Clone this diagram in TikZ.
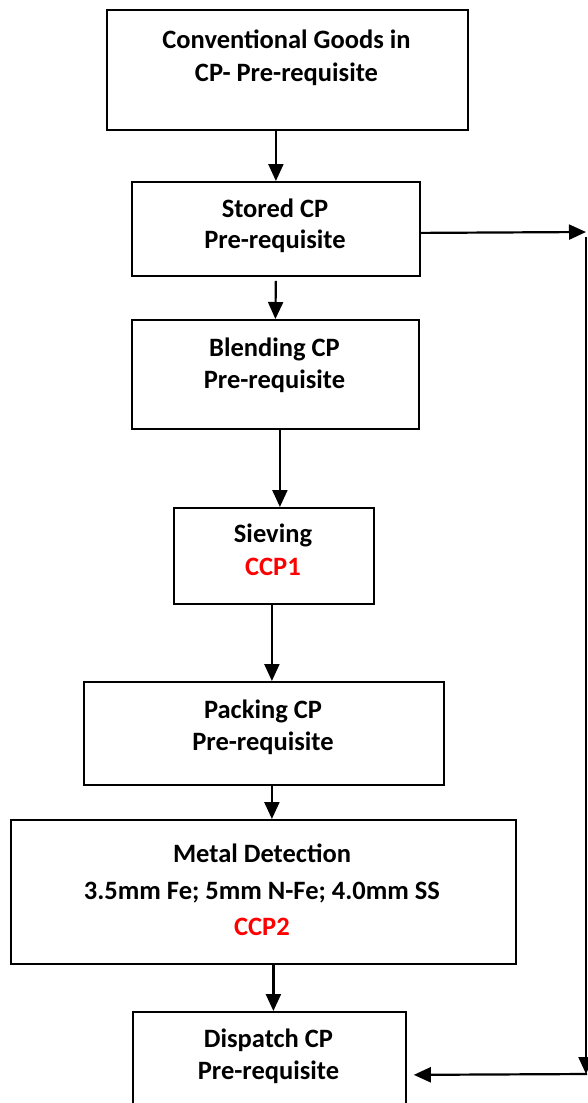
\documentclass[tikz,border=0pt]{standalone}
\usepackage{fontspec}
\setmainfont{Carlito}
\usetikzlibrary{arrows.meta}
\definecolor{ccpred}{RGB}{255,0,0}
\begin{document}
\begin{tikzpicture}[x=1pt,y=-1pt,
  box/.style={draw, line width=1.8pt, rectangle, inner sep=0pt, anchor=north west},
  txt/.style={font=\fontsize{26.5}{30}\selectfont\bfseries, anchor=base, inner sep=0pt},
  red/.style={txt, text=ccpred},
  arr/.style={line width=2.2pt, -{Triangle[length=17pt,width=15pt]}},
  ]
\useasboundingbox (0,0) rectangle (588,1103);
% boxes
\node[box, minimum width=361pt, minimum height=120pt] (conv) at (106,9) {};
\node[box, minimum width=288pt, minimum height=94pt] (stored) at (131,181) {};
\node[box, minimum width=287pt, minimum height=109pt] (blend) at (131,319) {};
\node[box, minimum width=200pt, minimum height=96pt] (sieve) at (173,507) {};
\node[box, minimum width=360pt, minimum height=103pt] (pack) at (83,681) {};
\node[box, minimum width=505pt, minimum height=144pt] (metal) at (10,819) {};
\node[box, minimum width=273pt, minimum height=126pt] (disp) at (132,1011) {};
% texts
\node[txt] (conv1) at (286.5,48) {Conventional Goods in};
\node[txt] (conv2) at (286.5,81) {CP- Pre-requisite};
\node[txt] (stored1) at (275,217) {Stored CP};
\node[txt] (stored2) at (275,248) {Pre-requisite};
\node[txt] (blend1) at (274.5,356) {Blending CP};
\node[txt] (blend2) at (274.5,388) {Pre-requisite};
\node[txt] (sieve1) at (273,542) {Sieving};
\node[red] (sieve2) at (273,575) {CCP1};
\node[txt] (pack1) at (263,718) {Packing CP};
\node[txt] (pack2) at (263,750) {Pre-requisite};
\node[txt] (metal1) at (262,862) {Metal Detection};
\node[txt] (metal2) at (262,899) {3.5mm Fe; 5mm N-Fe; 4.0mm SS};
\node[red] (metal3) at (262,935) {CCP2};
\node[txt] (disp1) at (268.5,1047) {Dispatch CP};
\node[txt] (disp2) at (268.5,1079) {Pre-requisite};
% connectors
\draw[arr] (stored.north |- conv.south) -- (stored.north);
\draw[arr, shorten <=4pt] (stored.south) -- (blend.north);
\draw[arr] ([xshift=4.5pt]blend.south) -- ([xshift=4.5pt]blend.south |- sieve.north);
\draw[arr] ([xshift=-2pt]sieve.south) -- ([xshift=-2pt]sieve.south |- pack.north);
\draw[arr] ([xshift=8pt]pack.south) -- ([xshift=8pt]pack.south |- metal.north);
\draw[arr] ([xshift=10pt]metal.south) -- ([xshift=10pt]metal.south |- disp.north);
% right side loop
\coordinate (r1) at (586,232);
\coordinate (r2) at (586,237);
\coordinate (r3) at (586,1074);
\coordinate (r4) at (587,1074);
\draw[arr] ([yshift=-4pt]stored.east) -- (r1);
\draw[arr] (r2) -- (r3);
\draw[arr, shorten >=7pt] (r4) -- (disp.east);
\end{tikzpicture}
\end{document}
